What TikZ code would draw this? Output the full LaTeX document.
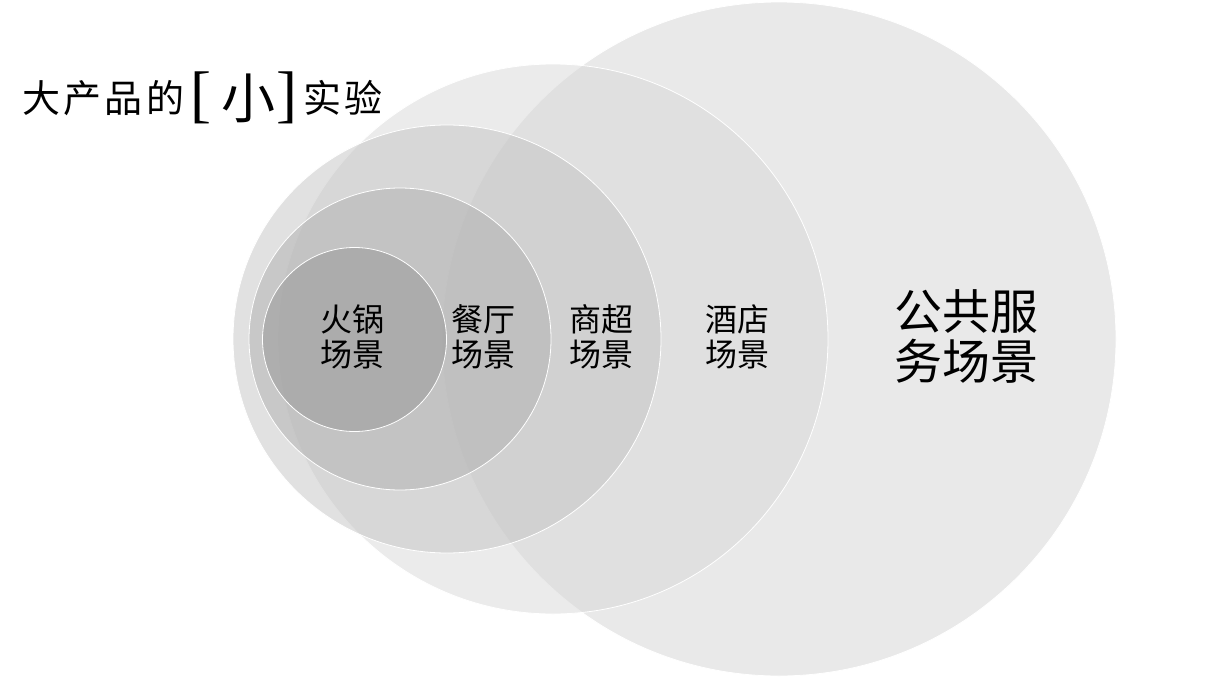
\documentclass[tikz,border=0pt]{standalone}
\usepackage{fontspec}
\newfontfamily\cjk{Noto Sans CJK SC}
\newfontfamily\brfont{Liberation Serif}
\definecolor{cA}{RGB}{213,213,213}
\definecolor{cB}{RGB}{217,217,217}
\definecolor{cC}{RGB}{196,196,196}
\definecolor{cD}{RGB}{176,176,176}
\definecolor{cE}{RGB}{150,150,150}
\begin{document}
\begin{tikzpicture}[x=1pt,y=-1pt,
  ring/.style={circle, draw=white, line width=0.8pt, fill opacity=0.5, draw opacity=1, inner sep=0pt},
  lbl/.style={font=\cjk\fontsize{32}{35}\selectfont, align=center, text=black, inner sep=0pt},
  biglbl/.style={font=\cjk\fontsize{48}{50}\selectfont, align=center, text=black, inner sep=0pt}
]
\useasboundingbox (0,0) rectangle (1210,680);
\fill[white] (0,0) rectangle (1210,680);
% circles, largest first
\node[ring, fill=cA, minimum size=674pt] (pub) at (779,339) {};
\node[ring, fill=cB, minimum size=550pt] (hotel) at (553,339) {};
\node[ring, fill=cC, minimum size=428pt] (market) at (447,339) {};
\node[ring, fill=cD, minimum size=302pt] (rest) at (400,339) {};
\node[ring, fill=cE, minimum size=184pt] (pot) at (354.5,339.5) {};
% labels
\node[lbl] (lpot) at (352,337) {火锅\\场景};
\node[lbl] (lrest) at (483,337) {餐厅\\场景};
\node[lbl] (lmarket) at (601,337) {商超\\场景};
\node[lbl] (lhotel) at (737,337) {酒店\\场景};
\node[biglbl] (lpub) at (966,336) {公共服\\务场景};
% title
\node[anchor=base west, inner sep=0pt, text=black] (title) at (22,112.4) {%
  \cjk\fontsize{38}{38}\selectfont
  \makebox[41pt][l]{大}\makebox[41pt][l]{产}\makebox[42.5pt][l]{品}\makebox[44pt][l]{的}%
  \makebox[31pt][l]{\raisebox{-2.6pt}{\brfont\fontsize{63}{63}\selectfont [}}%
  \makebox[55pt][l]{\raisebox{-6.5pt}{\fontsize{54}{54}\selectfont 小}}%
  \makebox[27pt][l]{\raisebox{-2.6pt}{\brfont\fontsize{63}{63}\selectfont ]}}%
  \makebox[41pt][l]{实}验};
\end{tikzpicture}
\end{document}
